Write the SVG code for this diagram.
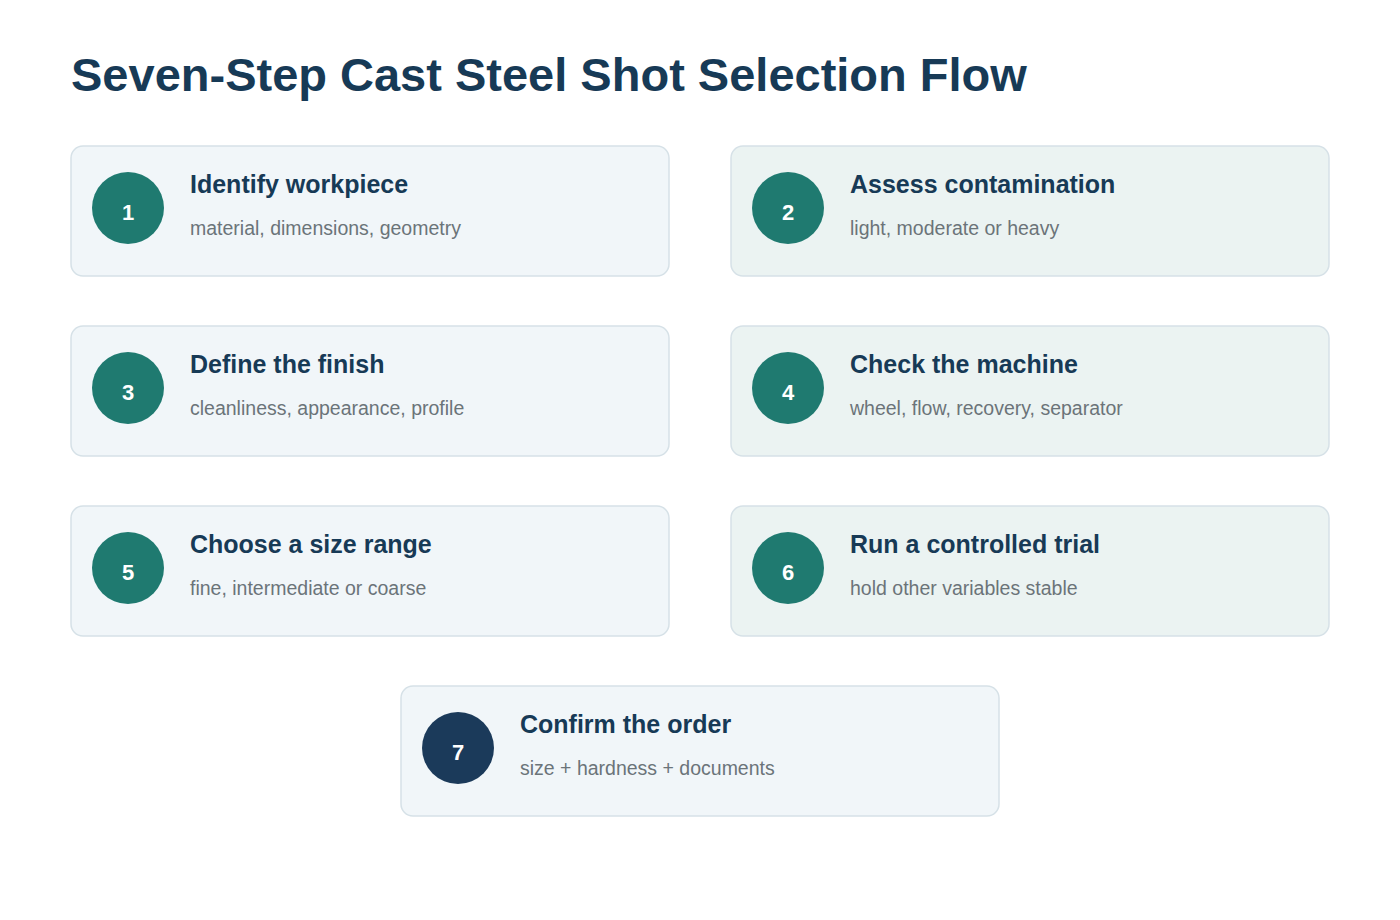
<svg xmlns="http://www.w3.org/2000/svg" width="1400" height="920" viewBox="0 0 1400 920">
<style>
.card{stroke:#d6e1e7;stroke-width:1.5}
.l{fill:#f1f6f9}.r{fill:#ebf3f2}
.c{fill:#1f7a70}.c7{fill:#1b3a5a}
.n{font-family:"Liberation Sans",Arial,sans-serif;font-weight:bold;font-size:22px;fill:#fff;text-anchor:middle}
.t{font-family:"Liberation Sans",Arial,sans-serif;font-weight:bold;font-size:25px;fill:#173a56}
.s{font-family:"Liberation Sans",Arial,sans-serif;font-size:19.5px;fill:#6b7479}
.h{font-family:"Liberation Sans",Arial,sans-serif;font-weight:bold;font-size:47px;fill:#173a56}
</style>
<rect width="1400" height="920" fill="#fff"/>
<text class="h" x="71" y="91">Seven-Step Cast Steel Shot Selection Flow</text>
<g id="connectors"></g>
<g id="step1"><rect class="card l" x="71" y="146" width="598" height="130" rx="12"/><circle class="c" cx="128" cy="208" r="36"/><text class="n" x="128" y="220">1</text><text class="t" x="190" y="193">Identify workpiece</text><text class="s" x="190" y="235">material, dimensions, geometry</text></g>
<g id="step2"><rect class="card r" x="731" y="146" width="598" height="130" rx="12"/><circle class="c" cx="788" cy="208" r="36"/><text class="n" x="788" y="220">2</text><text class="t" x="850" y="193">Assess contamination</text><text class="s" x="850" y="235">light, moderate or heavy</text></g>
<g id="step3"><rect class="card l" x="71" y="326" width="598" height="130" rx="12"/><circle class="c" cx="128" cy="388" r="36"/><text class="n" x="128" y="400">3</text><text class="t" x="190" y="373">Define the finish</text><text class="s" x="190" y="415">cleanliness, appearance, profile</text></g>
<g id="step4"><rect class="card r" x="731" y="326" width="598" height="130" rx="12"/><circle class="c" cx="788" cy="388" r="36"/><text class="n" x="788" y="400">4</text><text class="t" x="850" y="373">Check the machine</text><text class="s" x="850" y="415">wheel, flow, recovery, separator</text></g>
<g id="step5"><rect class="card l" x="71" y="506" width="598" height="130" rx="12"/><circle class="c" cx="128" cy="568" r="36"/><text class="n" x="128" y="580">5</text><text class="t" x="190" y="553">Choose a size range</text><text class="s" x="190" y="595">fine, intermediate or coarse</text></g>
<g id="step6"><rect class="card r" x="731" y="506" width="598" height="130" rx="12"/><circle class="c" cx="788" cy="568" r="36"/><text class="n" x="788" y="580">6</text><text class="t" x="850" y="553">Run a controlled trial</text><text class="s" x="850" y="595">hold other variables stable</text></g>
<g id="step7"><rect class="card l" x="401" y="686" width="598" height="130" rx="12"/><circle class="c7" cx="458" cy="748" r="36"/><text class="n" x="458" y="760">7</text><text class="t" x="520" y="733">Confirm the order</text><text class="s" x="520" y="775">size + hardness + documents</text></g>
</svg>
